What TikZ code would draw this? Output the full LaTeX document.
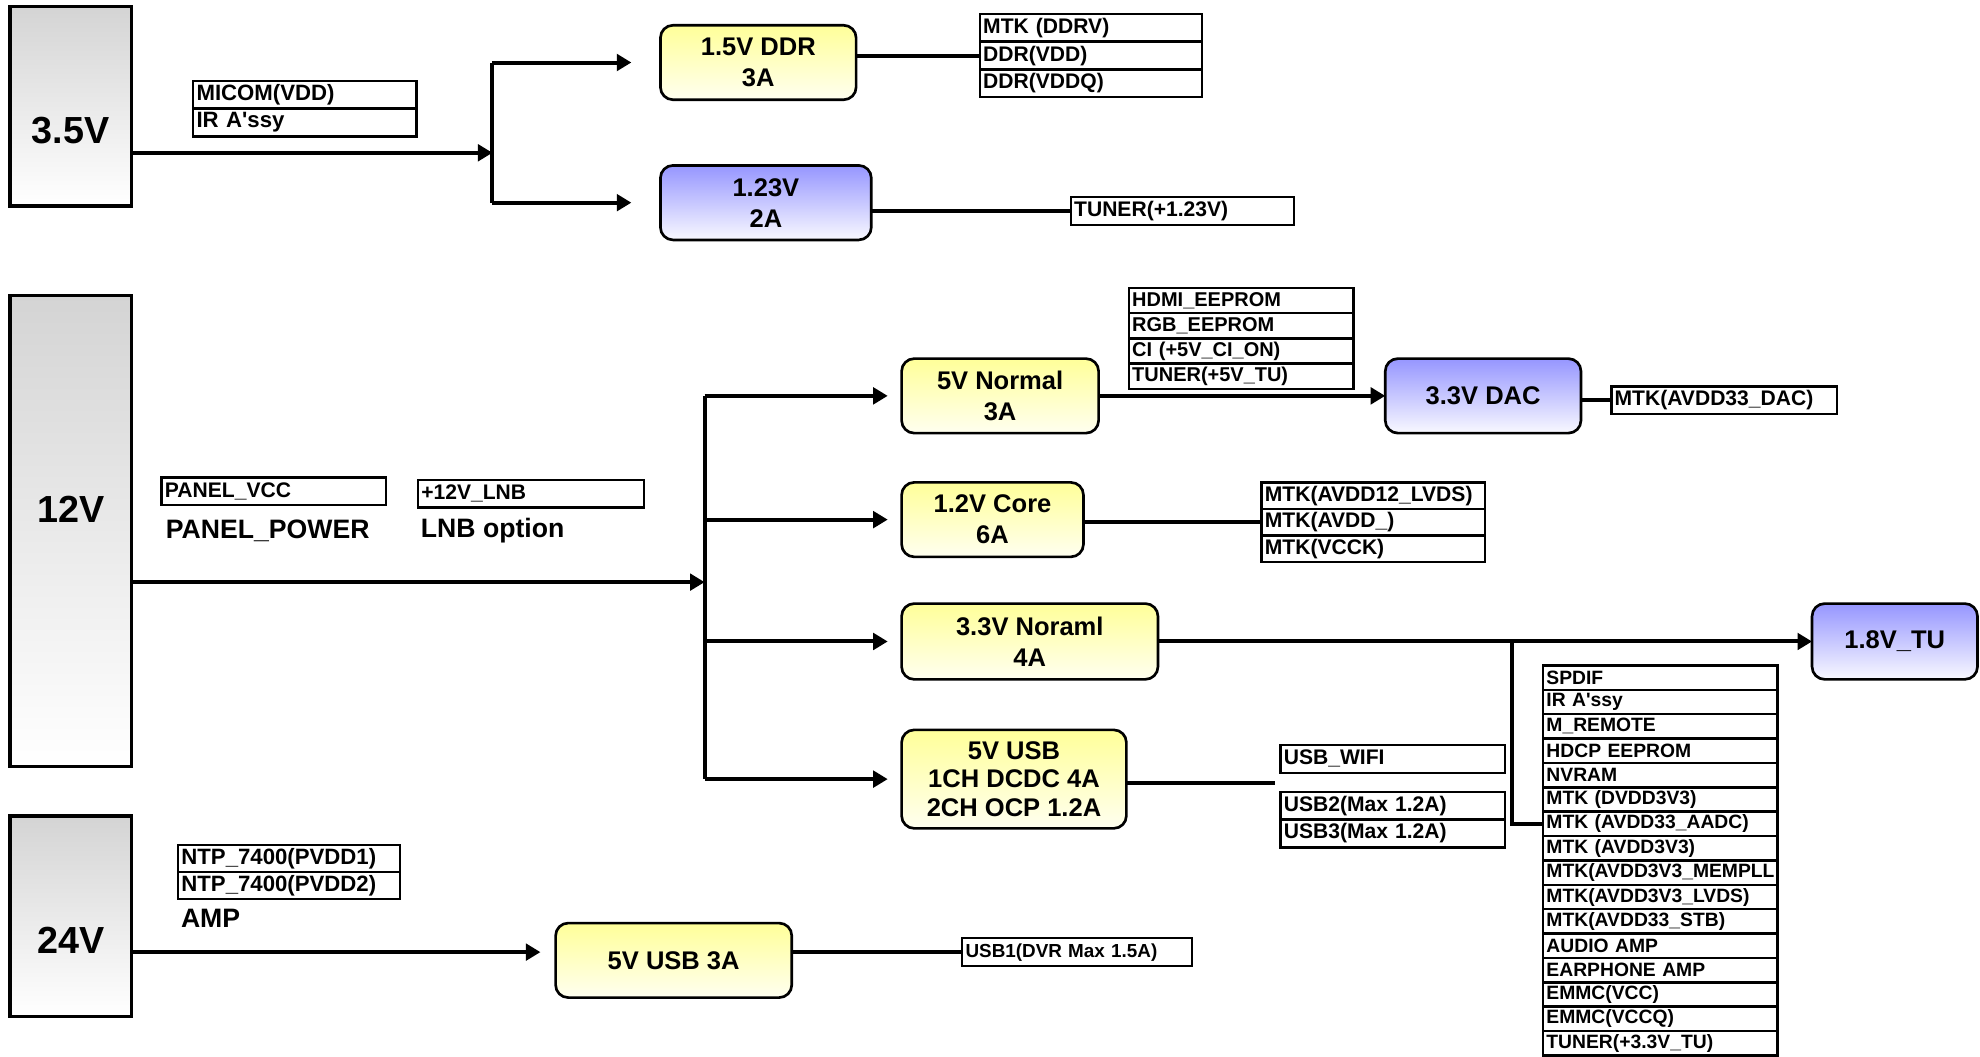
\documentclass[tikz,border=0pt]{standalone}
\usepackage{fontspec}
\setmainfont{Liberation Sans}
\usepackage{xcolor}
\usepackage{tikz}
\usetikzlibrary{arrows.meta, positioning}
\definecolor{regyellow}{RGB}{255,255,153}
\definecolor{regblue}{RGB}{150,150,255}
\definecolor{railgray}{RGB}{212,212,212}

\begin{document}
\begin{tikzpicture}[x=0.2mm, y=-0.2mm,
    rail/.style={rectangle, draw, line width=1.6pt, top color=railgray, bottom color=white,
                 anchor=north west, minimum width=19.2mm, outer sep=0pt},
    railtext/.style={font=\fontsize{17}{19}\selectfont\bfseries},
    reg/.style={rectangle, rounded corners=2mm, draw, line width=1.2pt, top color=regyellow,
                bottom color=regyellow!15, anchor=north west, minimum height=11.8mm,
                align=center, outer sep=0pt, font=\fontsize{11.5}{14}\selectfont\bfseries},
    regb/.style={reg, top color=regblue, bottom color=regblue!6},
    load/.style={rectangle, draw, line width=1.1pt, outer sep=0pt, inner xsep=1.5pt, inner ysep=0pt,
                 minimum height=4.4mm, text width=#1, align=left,
                 font=\fontsize{9.5}{10}\selectfont\bfseries},
    sink/.style={load=36.1mm, minimum height=3.86mm, font=\fontsize{8.7}{9.5}\selectfont\bfseries},
    note/.style={anchor=west, inner sep=0pt, font=\fontsize{12}{14}\selectfont\bfseries},
    wire/.style={line width=1.8pt},
    flow/.style={wire, -{Triangle[length=2.3mm, width=2.6mm]}}
]
\useasboundingbox (0,0) rectangle (1568,837);

\node[rail, minimum height=31.6mm] (v35) at (8,5) {};
\node[railtext] (v35t) at (56,103) {3.5V};
\node[load=34.3mm, anchor=north west, font=\fontsize{10}{11}\selectfont\bfseries] (micom) at (153,64) {MICOM(VDD)};
\node[load=34.3mm, below=0pt of micom, font=\fontsize{10}{11}\selectfont\bfseries] (irassy) {IR A\textquotesingle ssy};
\coordinate (j35) at (390,121);
\node[reg, minimum width=31mm] (ddr) at (523,20) {1.5V DDR\\3A};
\node[regb, minimum width=33.4mm] (v123) at (523,131) {1.23V\\2A};
\draw[flow] (j35 -| v35.east) -- (j35);
\draw[wire] (j35 |- ddr.west) -- (j35 |- v123.west);
\draw[flow] (j35 |- ddr.west) -- ([xshift=-4.6mm]ddr.west);
\draw[flow] (j35 |- v123.west) -- ([xshift=-4.6mm]v123.west);
\node[load=34.1mm, anchor=north west] (ddrv) at (776,11) {MTK (DDRV)};
\node[load=34.1mm, below=0pt of ddrv] (ddrvdd) {DDR(VDD)};
\node[load=34.1mm, below=0pt of ddrvdd] (ddrvddq) {DDR(VDDQ)};
\draw[wire] (ddr.east |- ddrvdd.west) -- (ddrvdd.west);
\node[load=34.3mm, anchor=north west] (tun123) at (848,156) {TUNER(+1.23V)};
\draw[wire] (v123.east |- tun123.west) -- (tun123.west);

\node[rail, minimum height=74.6mm] (v12) at (8,234) {};
\node[railtext] (v12t) at (56,403) {12V};
\node[load=34.5mm, anchor=north west] (panelvcc) at (128,378) {PANEL\_VCC};
\node[note] (panelpwr) at (131,420) {PANEL\_POWER};
\node[load=34.7mm, anchor=north west] (lnb) at (331,380) {+12V\_LNB};
\node[note] (lnbopt) at (333,420) {LNB option};
\coordinate (j12) at (558,461);
\node[reg, minimum width=31.2mm] (norm5) at (714,284) {5V Normal\\3A};
\node[reg, minimum width=28.8mm] (core) at (714,382) {1.2V Core\\6A};
\node[reg, minimum width=40.6mm, minimum height=12mm] (norm33) at (714,478) {3.3V Noraml\\4A};
\node[reg, minimum width=35.6mm, minimum height=15.6mm, font=\fontsize{11.5}{13}\selectfont\bfseries] (usb5) at (714,578) {5V USB\\1CH DCDC 4A\\2CH OCP 1.2A};
\draw[flow] (j12 -| v12.east) -- (j12);
\draw[wire] (j12 |- norm5.west) -- (j12 |- usb5.west);
\draw[flow] (j12 |- norm5.west) -- ([xshift=-2.2mm]norm5.west);
\draw[flow] (j12 |- core.west) -- ([xshift=-2.2mm]core.west);
\draw[flow] (j12 |- norm33.west) -- ([xshift=-2.2mm]norm33.west);
\draw[flow] (j12 |- usb5.west) -- ([xshift=-2.2mm]usb5.west);

\node[load=34.5mm, anchor=north west, minimum height=4mm, font=\fontsize{9}{10}\selectfont\bfseries] (hdmi) at (894,228) {HDMI\_EEPROM};
\node[load=34.5mm, minimum height=4mm, below=0pt of hdmi, font=\fontsize{9}{10}\selectfont\bfseries] (rgb) {RGB\_EEPROM};
\node[load=34.5mm, minimum height=4mm, below=0pt of rgb, font=\fontsize{9}{10}\selectfont\bfseries] (ci) {CI (+5V\_CI\_ON)};
\node[load=34.5mm, minimum height=4mm, below=0pt of ci, font=\fontsize{9}{10}\selectfont\bfseries] (tun5) {TUNER(+5V\_TU)};
\node[regb, minimum width=31mm] (dac) at (1097,284) {3.3V DAC};
\draw[flow] (norm5) -- (dac);
\node[load=34.7mm, anchor=north west] (dacl) at (1276,306) {MTK(AVDD33\_DAC)};
\draw[wire] (dac.east |- dacl.west) -- (dacl.west);

\node[load=34.3mm, anchor=north west, minimum height=4.2mm] (lvds12) at (999,382) {MTK(AVDD12\_LVDS)};
\node[load=34.3mm, minimum height=4.2mm, below=0pt of lvds12] (avdd) {MTK(AVDD\_)};
\node[load=34.3mm, minimum height=4.2mm, below=0pt of avdd] (vcck) {MTK(VCCK)};
\draw[wire] (core.east |- avdd.west) -- (avdd.west);

\node[regb, minimum width=26.2mm, minimum height=12mm] (tu18) at (1435,478) {1.8V\_TU};
\draw[flow] (norm33) -- (tu18);
\coordinate (j33) at (1197,502);
\node[sink, anchor=north west] (spdif) at (1222,527) {SPDIF};
\node[sink, below=0pt of spdif] (irassyb) {IR A\textquotesingle ssy};
\node[sink, below=0pt of irassyb] (mremote) {M\_REMOTE};
\node[sink, below=0pt of mremote] (hdcp) {HDCP EEPROM};
\node[sink, below=0pt of hdcp] (nvram) {NVRAM};
\node[sink, below=0pt of nvram] (dvdd) {MTK (DVDD3V3)};
\node[sink, below=0pt of dvdd] (aadc) {MTK (AVDD33\_AADC)};
\node[sink, below=0pt of aadc] (avdd3) {MTK (AVDD3V3)};
\begin{scope}
  \clip ([xshift=-2pt]avdd3.south west) rectangle ([xshift=0.6pt, yshift=-4.2mm]avdd3.south east);
  \node[sink, below=0pt of avdd3] (mempll) {MTK(AVDD3V3\_MEMPLL};
\end{scope}
\node[sink, below=0pt of mempll] (lvds33) {MTK(AVDD3V3\_LVDS)};
\node[sink, below=0pt of lvds33] (stb) {MTK(AVDD33\_STB)};
\node[sink, below=0pt of stb] (audioamp) {AUDIO AMP};
\node[sink, below=0pt of audioamp] (earamp) {EARPHONE AMP};
\node[sink, below=0pt of earamp] (emmcvcc) {EMMC(VCC)};
\node[sink, below=0pt of emmcvcc] (emmcvccq) {EMMC(VCCQ)};
\node[sink, below=0pt of emmcvccq] (tun33) {TUNER(+3.3V\_TU)};
\draw[wire] (j33 |- norm33.east) -- (j33 |- aadc.west) -- (aadc.west);

\node[load=34.5mm, anchor=north west] (usbwifi) at (1014,590) {USB\_WIFI};
\node[load=34.5mm, anchor=north west] (usb2) at (1014,627) {USB2(Max 1.2A)};
\node[load=34.5mm, below=0pt of usb2] (usb3) {USB3(Max 1.2A)};
\coordinate (usbtap) at (1010,620);
\draw[wire] (usb5.east |- usbtap) -- (usbtap);

\node[rail, minimum height=31.8mm] (v24) at (8,646) {};
\node[railtext] (v24t) at (56,745) {24V};
\node[load=34.1mm, anchor=north west, minimum height=4.3mm, font=\fontsize{10}{11}\selectfont\bfseries] (pvdd1) at (141,669) {NTP\_7400(PVDD1)};
\node[load=34.1mm, minimum height=4.3mm, below=0pt of pvdd1, font=\fontsize{10}{11}\selectfont\bfseries] (pvdd2) {NTP\_7400(PVDD2)};
\node[note] (amp) at (143,727) {AMP};
\node[reg, minimum width=37.4mm] (usb24) at (440,731) {5V USB 3A};
\node[load=35.3mm, anchor=north west, font=\fontsize{8.5}{9.5}\selectfont\bfseries] (usb1) at (762,743) {USB1(DVR Max 1.5A)};
\draw[flow] (usb1.west -| v24.east) -- ([xshift=-2.4mm]usb24.west |- usb1.west);
\draw[wire] (usb24.east |- usb1.west) -- (usb1.west);
\end{tikzpicture}
\end{document}
